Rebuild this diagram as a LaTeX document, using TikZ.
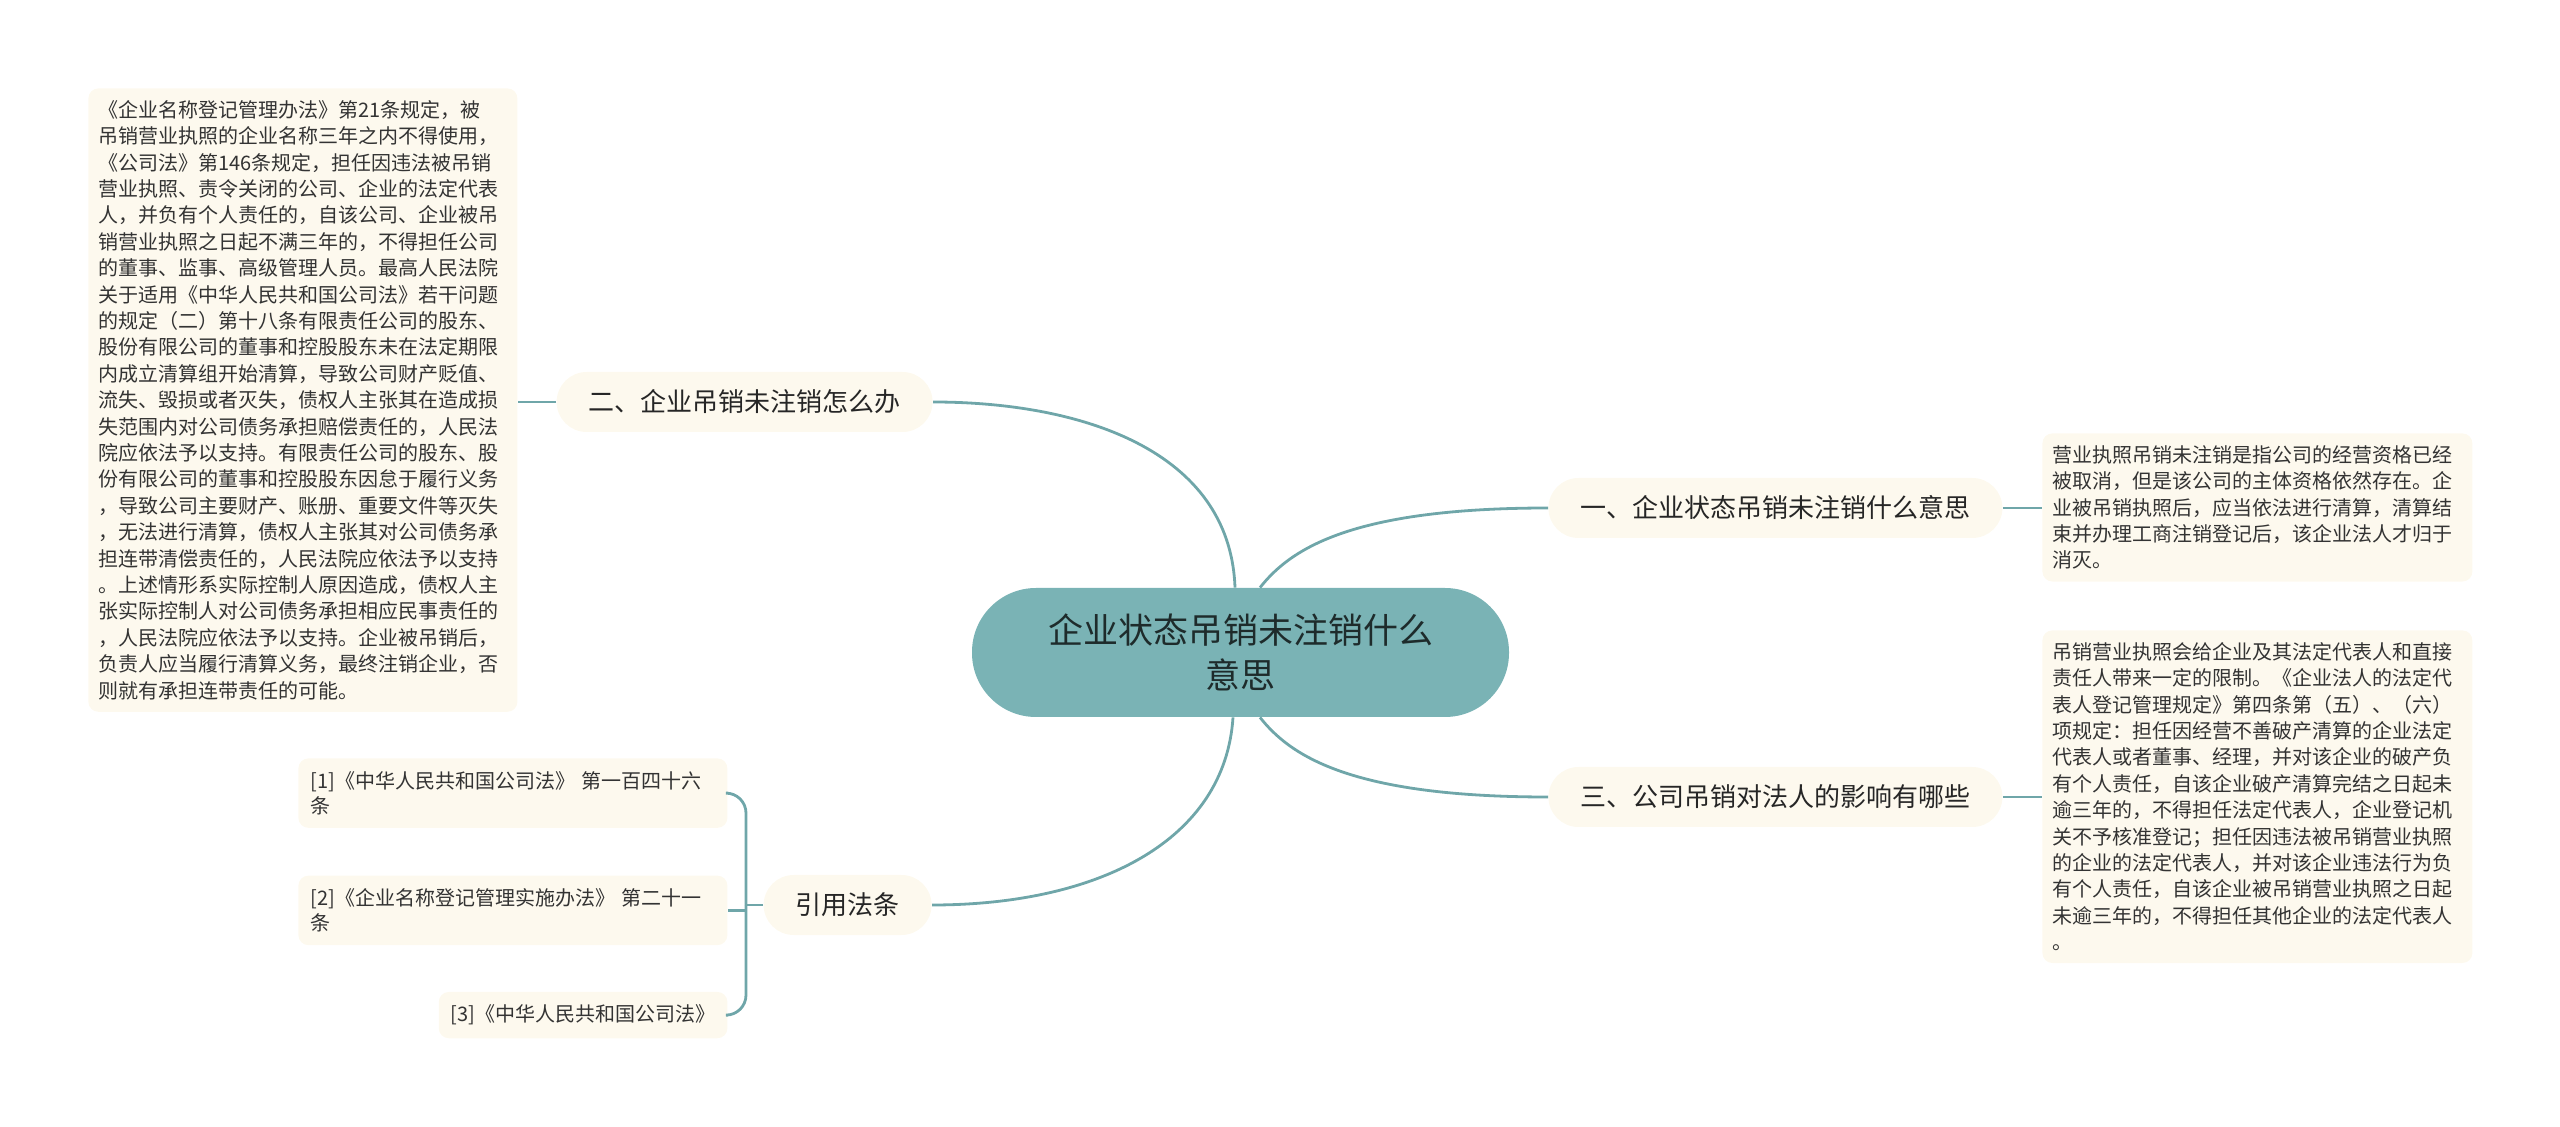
\documentclass[tikz,border=0pt]{standalone}
\usepackage{fontspec}
\setmainfont{Noto Sans CJK SC}
\usetikzlibrary{positioning}
\definecolor{rootfill}{HTML}{7AB3B5}
\definecolor{rootink}{HTML}{1E2B2B}
\definecolor{linkteal}{HTML}{6FA6A9}
\definecolor{pillfill}{HTML}{FDF9EE}
\definecolor{ink}{HTML}{333333}
\tikzset{
  root/.style={fill=rootfill,rounded corners=32pt,minimum width=268.5pt,minimum height=64.5pt,
    inner sep=0pt,align=center,text=rootink,font=\fontsize{17.5}{22.5}\selectfont},
  topic/.style={fill=pillfill,rounded corners=15pt,minimum height=30pt,inner xsep=16pt,
    text=black!85,font=\fontsize{13}{16}\selectfont},
  leaf/.style={fill=pillfill,rounded corners=5pt,anchor=north west,align=left,inner xsep=5pt,
    inner ysep=6pt,text=ink,font=\fontsize{10}{13.2}\selectfont},
  ref/.style={fill=pillfill,rounded corners=5pt,anchor=north west,align=left,inner xsep=6pt,
    inner ysep=6.5pt,text=ink,font=\fontsize{10}{12.5}\selectfont},
  link/.style={draw=linkteal,line width=1.4pt}
}
\begin{document}
\begin{tikzpicture}[x=0.5pt,y=-0.5pt]
  \useasboundingbox (0,0) rectangle (2560,1127);

  % centre
  \node[root] (root) at (1240.5,652.5) {企业状态吊销未注销什么\\意思};

  % branches
  \node[topic,anchor=west] (mean) at (1548,508) {一、企业状态吊销未注销什么意思};
  \node[topic,anchor=west] (effect) at (1548,797) {三、公司吊销对法人的影响有哪些};
  \node[topic,anchor=east] (handle) at (933,402) {二、企业吊销未注销怎么办};
  \node[topic,anchor=east] (cite) at (932,905) {引用法条};

  % texts
  \node[leaf,text width=205pt] (meantext) at (2042,433) {%
    营业执照吊销未注销是指公司的经营资格已经\\
    被取消，但是该公司的主体资格依然存在。企\\
    业被吊销执照后，应当依法进行清算，清算结\\
    束并办理工商注销登记后，该企业法人才归于\\
    消灭。};
  \node[leaf,text width=205pt] (effecttext) at (2042,630) {%
    吊销营业执照会给企业及其法定代表人和直接\\
    责任人带来一定的限制。《企业法人的法定代\\
    表人登记管理规定》第四条第（五）、（六）\\
    项规定：担任因经营不善破产清算的企业法定\\
    代表人或者董事、经理，并对该企业的破产负\\
    有个人责任，自该企业破产清算完结之日起未\\
    逾三年的，不得担任法定代表人，企业登记机\\
    关不予核准登记；担任因违法被吊销营业执照\\
    的企业的法定代表人，并对该企业违法行为负\\
    有个人责任，自该企业被吊销营业执照之日起\\
    未逾三年的，不得担任其他企业的法定代表人\\
    。};
  \node[leaf,text width=204.5pt] (handletext) at (88,88) {%
    《企业名称登记管理办法》第21条规定，被\\
    吊销营业执照的企业名称三年之内不得使用，\\
    《公司法》第146条规定，担任因违法被吊销\\
    营业执照、责令关闭的公司、企业的法定代表\\
    人，并负有个人责任的，自该公司、企业被吊\\
    销营业执照之日起不满三年的，不得担任公司\\
    的董事、监事、高级管理人员。最高人民法院\\
    关于适用《中华人民共和国公司法》若干问题\\
    的规定（二）第十八条有限责任公司的股东、\\
    股份有限公司的董事和控股股东未在法定期限\\
    内成立清算组开始清算，导致公司财产贬值、\\
    流失、毁损或者灭失，债权人主张其在造成损\\
    失范围内对公司债务承担赔偿责任的，人民法\\
    院应依法予以支持。有限责任公司的股东、股\\
    份有限公司的董事和控股股东因怠于履行义务\\
    ，导致公司主要财产、账册、重要文件等灭失\\
    ，无法进行清算，债权人主张其对公司债务承\\
    担连带清偿责任的，人民法院应依法予以支持\\
    。上述情形系实际控制人原因造成，债权人主\\
    张实际控制人对公司债务承担相应民事责任的\\
    ，人民法院应依法予以支持。企业被吊销后，\\
    负责人应当履行清算义务，最终注销企业，否\\
    则就有承担连带责任的可能。};

  % citations
  \node[ref,text width=202.5pt] (ref1) at (298,758) {[1]《中华人民共和国公司法》 第一百四十六\\条};
  \node[ref,text width=202.5pt,below=23.5pt of ref1.south west,anchor=north west] (ref2)
    {[2]《企业名称登记管理实施办法》 第二十一\\条};
  \node[ref,below=23pt of ref2.south east,anchor=north east] (ref3) {[3]《中华人民共和国公司法》};
  \coordinate (fork) at (746,905);

  % links
  \draw[link] ([xshift=-2.75pt]root.north) .. controls +(-5,-138) and +(147,0) .. (handle.east);
  \draw[link] ([xshift=9.75pt]root.north) .. controls +(30,-38) and +(-198,0) .. (mean.west);
  \draw[link] ([xshift=9.75pt]root.south) .. controls +(30,38) and +(-198,0) .. (effect.west);
  \draw[link] ([xshift=-3.75pt]root.south) .. controls +(-8,123) and +(167,0) .. (cite.east);

  \draw[link] (mean.east) -- (mean.east -| meantext.west);
  \draw[link] (effect.east) -- (effect.east -| effecttext.west);
  \draw[link] (handle.west) -- (handle.west -| handletext.east);

  \draw[link] (cite.west) -- (fork);
  \draw[link,rounded corners=10pt] (fork) |- (ref1.east);
  \draw[link,rounded corners=10pt] (fork) |- (ref3.east);
  \draw[link] (fork |- ref2.east) -- (ref2.east);
\end{tikzpicture}
\end{document}
